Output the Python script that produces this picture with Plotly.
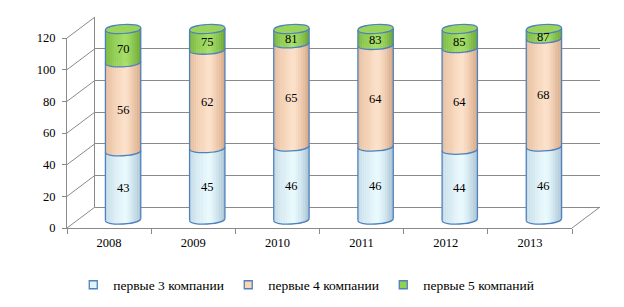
import math
import plotly.graph_objects as go

# ---------------- data ----------------
years = ["2008", "2009", "2010", "2011", "2012", "2013"]
top3 = [43, 45, 46, 46, 44, 46]
top4 = [56, 62, 65, 64, 64, 68]
top5 = [70, 75, 81, 83, 85, 87]
series_names = ["первые 3 компании", "первые 4 компании", "первые 5 компаний"]
y_ticks = [0, 20, 40, 60, 80, 100, 120]

# ---------------- styling ----------------
W, H = 624, 307
AXIS_MAX = 120
FONT = "Liberation Serif, Times New Roman, serif"
GRID = "#8a8a8a"
EDGE = "#4f81bd"
legend_fills = ["#dff4fb", "#fbd5b4", "#92d050"]
# shading profile (left edge, highlight, right edge) for each segment
shade = [
    ("#c3d8e4", "#eafbff", "#a8c1d2"),
    ("#e3b999", "#fde2cb", "#d5a784"),
    ("#78b441", "#a5df68", "#6aa436"),
]
cap_color = "#9bd45c"

def pxx(x):
    return x / W

def pxy(y):
    return 1 - y / H

# pixel geometry of the three depth planes (front axis, back wall, bar plane)
FRONT = dict(x0=67, x1=572, y0=228, y1=38)
BACK = dict(x0=95, x1=600, y0=207, y1=17)
MID = dict(x0=81, x1=586, y0=219.5, y1=29)
unit_front = (FRONT["y0"] - FRONT["y1"]) / AXIS_MAX
unit_mid = (MID["y0"] - MID["y1"]) / AXIS_MAX
PAD = 6

def front_y(v):
    return pxy(FRONT["y0"] - v * unit_front)

def back_y(v):
    return pxy(BACK["y0"] - v * (BACK["y0"] - BACK["y1"]) / AXIS_MAX)

def hex2rgb(h):
    h = h.lstrip("#")
    return [int(h[i:i + 2], 16) for i in (0, 2, 4)]

def mix(c1, c2, f):
    a1, a2 = hex2rgb(c1), hex2rgb(c2)
    r = [round(x + (y - x) * f) for x, y in zip(a1, a2)]
    return "rgb(%d,%d,%d)" % tuple(r)

def shade_at(k, p):
    l, c, r = shade[k]
    hp = 0.55
    if p <= hp:
        return mix(l, c, (p / hp) ** 0.7)
    return mix(c, r, ((p - hp) / (1 - hp)) ** 1.3)

n = len(years)
idx = list(range(n))
series = [top3, top4, top5]

# visible (clipped at axis max) heights of the stacked cylinders
visible, bases = [], []
base = [0] * n
for s in series:
    h = [max(0, min(v, AXIS_MAX - b)) for v, b in zip(s, base)]
    visible.append(h)
    bases.append(list(base))
    base = [b + hh for b, hh in zip(base, h)]

fig = go.Figure()

# invisible helpers so the front axes and back wall are drawn
fig.add_trace(go.Scatter(x=years, y=[0] * n, mode="markers", marker=dict(opacity=0),
                         showlegend=False, hoverinfo="skip", xaxis="x", yaxis="y"))
fig.add_trace(go.Scatter(x=[0], y=[0], mode="markers", marker=dict(opacity=0),
                         showlegend=False, hoverinfo="skip", xaxis="x2", yaxis="y2"))

BW = 0.42
for k in range(3):
    fig.add_trace(go.Bar(
        x=idx, y=visible[k], name=series_names[k], width=BW, legendgroup=str(k),
        marker=dict(color=shade[k][1], line=dict(width=0)), showlegend=False,
        xaxis="x3", yaxis="y3", hoverinfo="skip",
    ))
# legend entries (small squares with blue border)
for k in range(3):
    fig.add_trace(go.Scatter(
        x=[None], y=[None], mode="markers", name=series_names[k], legendgroup=str(k),
        marker=dict(symbol="square", size=8, color=legend_fills[k],
                    line=dict(color=EDGE, width=1.3)),
        xaxis="x3", yaxis="y3", hoverinfo="skip",
    ))

# ---------------- cylinder geometry ----------------
a = BW / 2
b = 4.5 / unit_mid
t = 1.0 / unit_mid
kk = 4.0 / 3.0
NSTRIPE = 16

def arc_y(cy, u, lower=True):
    s = math.sqrt(max(0.0, 1 - u * u))
    return cy + t * u - (b * s if lower else -b * s)

def ellipse_path(cx, cy):
    L = (cx - a, cy - t)
    R = (cx + a, cy + t)
    return (f"M {L[0]},{L[1]} C {L[0]},{L[1]-kk*b} {R[0]},{R[1]-kk*b} {R[0]},{R[1]} "
            f"C {R[0]},{R[1]+kk*b} {L[0]},{L[1]+kk*b} {L[0]},{L[1]} Z")

def lower_arc(cx, cy):
    L = (cx - a, cy - t)
    R = (cx + a, cy + t)
    return f"M {L[0]},{L[1]} C {L[0]},{L[1]-kk*b} {R[0]},{R[1]-kk*b} {R[0]},{R[1]}"

shapes = []
edge = dict(color=EDGE, width=1.3)
for i in idx:
    top = bases[2][i] + visible[2][i]
    # shaded stripes following the elliptical boundaries
    for k in range(3):
        if visible[k][i] <= 0:
            continue
        lo = bases[k][i]
        hi = lo + visible[k][i]
        for j in range(NSTRIPE):
            x0 = i - a + 2 * a * j / NSTRIPE
            x1 = i - a + 2 * a * (j + 1) / NSTRIPE
            um = ((x0 + x1) / 2 - i) / a
            y0 = arc_y(lo, um, True)
            y1 = arc_y(hi, um, True) if k < 2 and hi < top else hi + t * um
            col = shade_at(k, (j + 0.5) / NSTRIPE)
            shapes.append(dict(type="rect", xref="x3", yref="y3", x0=x0, x1=x1 + 0.002,
                               y0=y0, y1=y1, fillcolor=col, line=dict(width=0)))
    # outlines
    shapes.append(dict(type="path", xref="x3", yref="y3", path=lower_arc(i, 0), line=edge))
    for k in range(1, 3):
        if visible[k][i] > 0:
            shapes.append(dict(type="path", xref="x3", yref="y3",
                               path=lower_arc(i, bases[k][i]), line=edge))
    shapes.append(dict(type="line", xref="x3", yref="y3", x0=i - a, x1=i - a,
                       y0=-t, y1=top - t, line=edge))
    shapes.append(dict(type="line", xref="x3", yref="y3", x0=i + a, x1=i + a,
                       y0=t, y1=top + t, line=edge))
    shapes.append(dict(type="path", xref="x3", yref="y3", path=ellipse_path(i, top),
                       fillcolor=cap_color, line=dict(color=EDGE, width=1.2)))

# ---------------- 3D frame lines ----------------
frame = dict(color=GRID, width=1)
for v in y_ticks:
    shapes.append(dict(type="line", xref="paper", yref="paper",
                       x0=pxx(FRONT["x0"]), y0=front_y(v), x1=pxx(BACK["x0"]), y1=back_y(v),
                       line=frame, layer="below"))
shapes.append(dict(type="line", xref="paper", yref="paper",
                   x0=pxx(FRONT["x1"]), y0=front_y(0), x1=pxx(BACK["x1"]), y1=back_y(0),
                   line=frame, layer="below"))

# ---------------- value labels ----------------
annotations = []
for k in range(3):
    for i in idx:
        if visible[k][i] <= 0:
            continue
        annotations.append(dict(
            x=i, y=bases[k][i] + visible[k][i] / 2, xref="x3", yref="y3",
            text=str(series[k][i]), showarrow=False, yshift=-3,
            font=dict(family=FONT, size=12.5, color="black")))

fig.update_layout(
    template="none",
    width=W, height=H,
    margin=dict(l=0, r=0, t=0, b=0, pad=0, autoexpand=False),
    paper_bgcolor="white", plot_bgcolor="rgba(0,0,0,0)",
    barmode="stack", bargap=0,
    font=dict(family=FONT, size=12.5, color="black"),
    shapes=shapes, annotations=annotations,
    showlegend=True,
    legend=dict(orientation="h", x=0.49, xanchor="center", y=pxy(285), yanchor="middle",
                font=dict(family=FONT, size=13.5, color="black"), traceorder="normal",
                itemwidth=30, entrywidth=110, bgcolor="rgba(0,0,0,0)"),
    xaxis=dict(domain=[pxx(FRONT["x0"]), pxx(FRONT["x1"])], type="category",
               categoryorder="array", categoryarray=years, range=[-0.5, n - 0.5],
               showline=True, linecolor=GRID, linewidth=1, ticks="outside",
               tickson="boundaries", ticklen=5, tickcolor=GRID, showgrid=False,
               zeroline=False, automargin=False, ticklabelstandoff=3,
               tickfont=dict(family=FONT, size=12.5)),
    yaxis=dict(domain=[front_y(0), front_y(AXIS_MAX)], range=[0, AXIS_MAX],
               tickvals=y_ticks, showline=True, linecolor=GRID, linewidth=1,
               ticks="outside", ticklen=4, tickcolor=GRID, showgrid=False,
               zeroline=False, automargin=False, ticklabelstandoff=4,
               tickfont=dict(family=FONT, size=12.5)),
    xaxis2=dict(domain=[pxx(BACK["x0"]), pxx(BACK["x1"])], range=[0, 1], anchor="y2",
                showticklabels=False, showgrid=False, zeroline=False, showline=False,
                ticks="", automargin=False),
    yaxis2=dict(domain=[back_y(0), back_y(AXIS_MAX)], range=[0, AXIS_MAX + 0.01], anchor="x2",
                tickvals=y_ticks, showticklabels=False, showgrid=True, gridcolor=GRID,
                gridwidth=1, zeroline=True, zerolinecolor=GRID, zerolinewidth=1,
                showline=True, linecolor=GRID, linewidth=1, ticks="", automargin=False),
    xaxis3=dict(domain=[pxx(MID["x0"]), pxx(MID["x1"])], range=[-0.5, n - 0.5],
                anchor="y3", visible=False, automargin=False),
    yaxis3=dict(domain=[pxy(MID["y0"] + PAD * unit_mid), pxy(MID["y1"] - PAD * unit_mid)],
                range=[-PAD, AXIS_MAX + PAD], anchor="x3", visible=False, automargin=False),
)

fig.write_html("out.html", config={"displayModeBar": False},
               post_script="document.body.style.margin='0';document.body.style.padding='0';")
